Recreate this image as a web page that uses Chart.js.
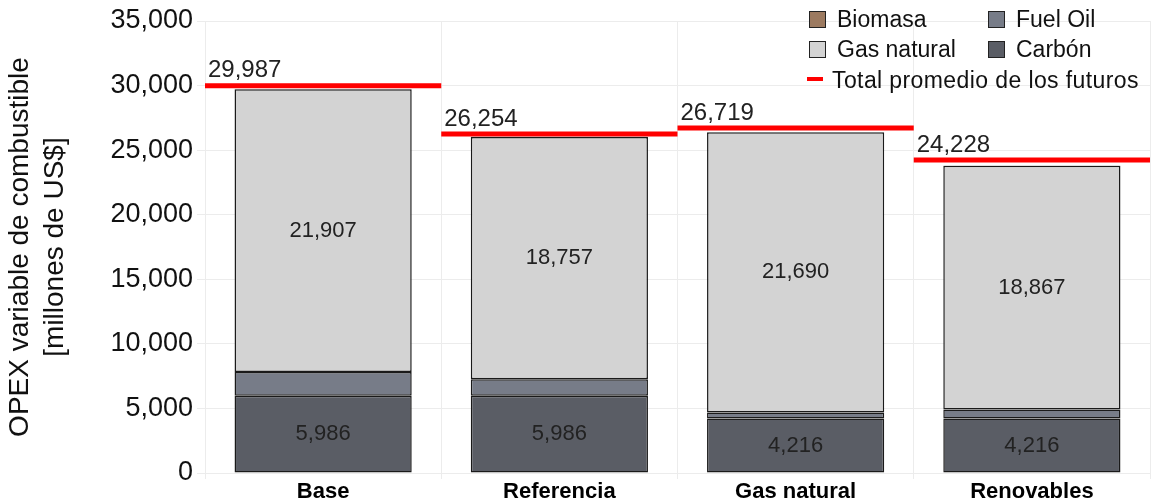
<!DOCTYPE html>
<html>
<head>
<meta charset="utf-8">
<script src="https://cdn.jsdelivr.net/npm/chart.js@4.4.0/dist/chart.umd.min.js"></script>
<style>
    body { margin: 0; background: #fff; font-family: "Liberation Sans", Arial, sans-serif; }
    #wrap { position: relative; width: 1151px; height: 503px; }
    .leg { position: absolute; font-size: 23px; color: #111; line-height: 1; white-space: nowrap; }
    .sw { position: absolute; width: 15px; height: 15px; border: 1.5px solid #222; }
    .dash { position: absolute; width: 16px; height: 4px; background: #ff0000; }
</style>
</head>
<body>
<div id="wrap">
    <canvas id="opexChart" width="1151" height="503"></canvas>

    <div class="sw" style="left:809px; top:11px; background:#9c7a60;"></div>
    <div class="leg" style="left:837px; top:8px;">Biomasa</div>
    <div class="sw" style="left:988px; top:11px; background:#777c88;"></div>
    <div class="leg" style="left:1016px; top:8px;">Fuel Oil</div>

    <div class="sw" style="left:809px; top:41px; background:#d3d3d3;"></div>
    <div class="leg" style="left:837px; top:38px;">Gas natural</div>
    <div class="sw" style="left:988px; top:41px; background:#5a5d65;"></div>
    <div class="leg" style="left:1016px; top:38px;">Carbón</div>

    <div class="dash" style="left:807px; top:77px;"></div>
    <div class="leg" style="left:832px; top:69px; letter-spacing:0.4px;">Total promedio de los futuros</div>
</div>

<script>
// Datos
const futuros = ['Base', 'Referencia', 'Gas natural', 'Renovables'];
const carbon = [5986, 5986, 4216, 4216];
const fuelOil = [1830, 1270, 470, 700];
const gasNatural = [21907, 18757, 21690, 18867];
const biomasa = [20, 15, 10, 30];
const totalPromedio = [29987, 26254, 26719, 24228];
const yTicks = [0, 5000, 10000, 15000, 20000, 25000, 30000, 35000];

const fmt = v => v.toLocaleString('en-US');
const FONT = '"Liberation Sans", Arial, sans-serif';

// red segment per scenario, spanning the full category width
const totalPoints = [];
totalPromedio.forEach(function(v, i) {
    totalPoints.push({ x: i - 0.5, y: v });
    totalPoints.push({ x: i + 0.5, y: v });
    totalPoints.push({ x: i + 0.5, y: null });
});

const barStyle = {
    type: 'bar',
    indexAxis: 'x',
    borderColor: '#1a1a1a',
    borderWidth: 1.5,
    borderSkipped: false,
    categoryPercentage: 1,
    barPercentage: 0.75,
    stack: 's'
};

// Labels inside bars and above the red lines
const labelsPlugin = {
    id: 'labels',
    afterDatasetsDraw(chart) {
        const ctx = chart.ctx;
        ctx.save();
        ctx.font = '22px ' + FONT;
        ctx.fillStyle = '#222';
        ctx.textAlign = 'center';
        ctx.textBaseline = 'middle';
        [0, 2].forEach(function(di) {
            const meta = chart.getDatasetMeta(di);
            const values = chart.data.datasets[di].data;
            meta.data.forEach(function(bar, i) {
                ctx.fillText(fmt(values[i]), bar.x, (bar.y + bar.base) / 2);
            });
        });
        const y = chart.scales.y;
        const x2 = chart.scales.x2;
        ctx.font = '24px ' + FONT;
        ctx.textAlign = 'left';
        ctx.textBaseline = 'bottom';
        totalPromedio.forEach(function(v, i) {
            ctx.fillText(fmt(v), x2.getPixelForValue(i - 0.5) + 3, y.getPixelForValue(v) - 3);
        });
        ctx.restore();
    }
};

const chart = new Chart(document.getElementById('opexChart'), {
    type: 'bar',
    data: {
        labels: futuros,
        datasets: [
            Object.assign({ label: 'Carbón', data: carbon, backgroundColor: '#5a5d65' }, barStyle),
            Object.assign({ label: 'Fuel Oil', data: fuelOil, backgroundColor: '#777c88' }, barStyle),
            Object.assign({ label: 'Gas natural', data: gasNatural, backgroundColor: '#d3d3d3' }, barStyle),
            Object.assign({ label: 'Biomasa', data: biomasa, backgroundColor: '#9c7a60' }, barStyle),
            {
                type: 'line',
                indexAxis: 'x',
                label: 'Total promedio de los futuros',
                data: totalPoints,
                xAxisID: 'x2',
                borderColor: '#ff0000',
                borderWidth: 5,
                borderCapStyle: 'butt',
                pointRadius: 0,
                spanGaps: false,
                fill: false
            }
        ]
    },
    options: {
        // chart-level index axis 'y' keeps the hidden line axis from splitting the bar slots
        indexAxis: 'y',
        responsive: false,
        animation: false,
        layout: { padding: { top: 21, right: 1, left: 0, bottom: 0 } },
        scales: {
            x: {
                type: 'category',
                stacked: true,
                offset: true,
                grid: { color: '#ececec', tickLength: 6, offset: true },
                border: { color: '#ececec' },
                ticks: {
                    color: '#000',
                    padding: 0,
                    font: { family: FONT, size: 22, weight: 'bold' }
                },
                afterFit(scale) { scale.height = 30; }
            },
            x2: {
                type: 'linear',
                display: false,
                offset: false,
                min: -0.5,
                max: 3.5
            },
            y: {
                type: 'linear',
                stacked: true,
                min: 0,
                max: 35000,
                offset: false,
                grid: { color: '#ececec', tickLength: 8, offset: false },
                border: { color: '#ececec' },
                afterBuildTicks(scale) {
                    scale.ticks = yTicks.map(v => ({ value: v }));
                },
                ticks: {
                    color: '#111',
                    padding: 4,
                    font: { family: FONT, size: 27 },
                    callback: v => fmt(v)
                },
                title: {
                    display: true,
                    text: ['OPEX variable de combustible', '[millones de US$]'],
                    color: '#111',
                    padding: { top: 3, bottom: 0 },
                    font: { family: FONT, size: 28, lineHeight: 1.25 }
                },
                afterFit(scale) { scale.width = 205; }
            }
        },
        plugins: {
            legend: { display: false },
            tooltip: { enabled: false }
        }
    },
    plugins: [labelsPlugin]
});
</script>
</body>
</html>
